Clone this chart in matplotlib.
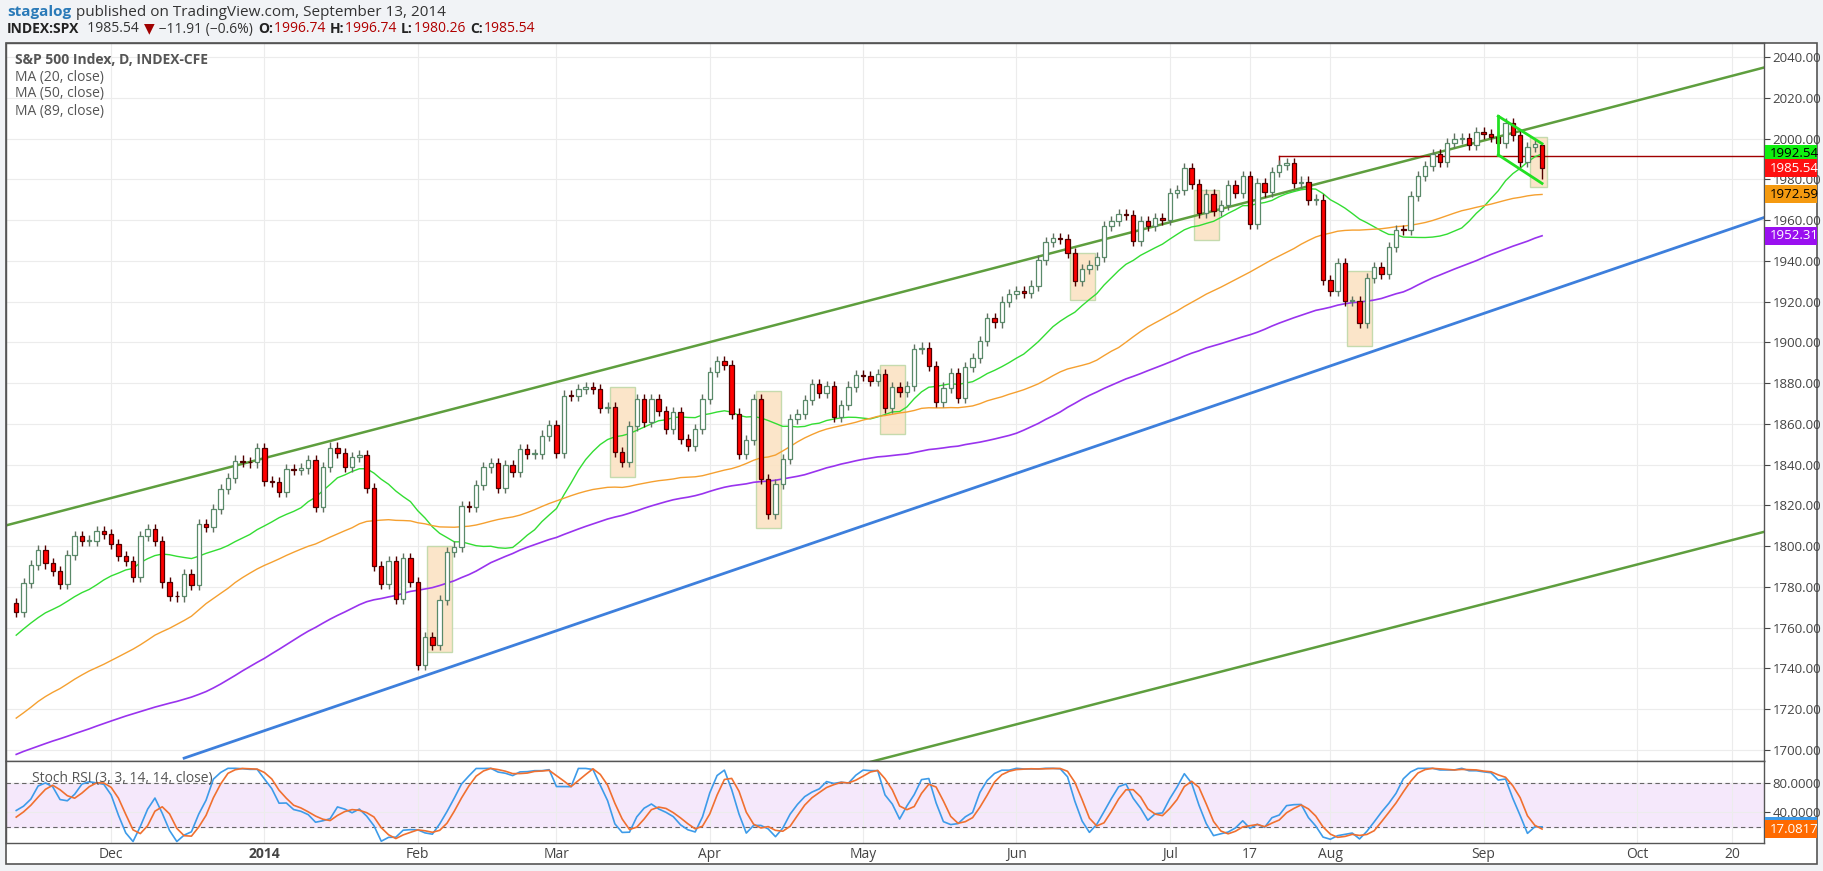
import numpy as np
import pandas as pd
import matplotlib
matplotlib.use("Agg")
import matplotlib.pyplot as plt
from matplotlib.patches import Rectangle
import matplotlib.transforms as mtransforms

plt.rcParams['font.family'] = ['Open Sans', 'DejaVu Sans']

# ---------------- data ----------------
holidays = ['2013-07-04', '2013-09-02', '2013-11-28', '2013-12-25', '2014-01-01', '2014-01-20',
            '2014-02-17', '2014-04-18', '2014-05-26', '2014-07-04', '2014-09-01']
pre_closes = [  # Jul 1 2013 .. Nov 11 2013 (warm-up for averages)
    1614, 1614, 1615, 1632, 1640, 1652, 1652, 1675, 1680, 1683, 1677, 1681, 1689, 1692, 1696, 1695, 1689, 1693, 1691, 1686, 1686, 1686,
    1707, 1710, 1707, 1697, 1690, 1697, 1691, 1689, 1694, 1685, 1661, 1656, 1646, 1652, 1642, 1656, 1663, 1657, 1630, 1634, 1638, 1633,
    1639, 1653, 1655, 1655, 1671, 1684, 1689, 1683, 1688, 1698, 1705, 1726, 1723, 1710, 1702, 1698, 1693, 1699, 1692, 1682,
    1695, 1694, 1679, 1691, 1676, 1656, 1656, 1692, 1703, 1710, 1698, 1721, 1733, 1745, 1744, 1754, 1746, 1752, 1759, 1763, 1771, 1763, 1757,
    1762, 1767, 1762, 1770, 1748, 1770, 1771.89]
closes = [  # Nov 12 2013 .. Sep 12 2014
    1767.69, 1782.00, 1790.62, 1798.18, 1791.53, 1787.87, 1781.37, 1795.85, 1804.76, 1802.48, 1802.75, 1807.23, 1805.81,
    1800.90, 1795.15, 1792.81, 1785.03, 1805.09, 1808.37, 1802.62, 1782.22, 1775.50, 1775.32, 1786.54, 1781.00, 1810.65, 1809.60, 1818.32, 1827.99, 1833.32, 1842.02, 1841.40, 1841.07, 1848.36,
    1831.98, 1831.37, 1826.77, 1837.88, 1837.49, 1838.13, 1842.37, 1819.20, 1838.88, 1848.38, 1845.89, 1838.70, 1843.80, 1844.86, 1828.46, 1790.29, 1781.56, 1792.50, 1774.20, 1794.19, 1782.59,
    1741.89, 1755.20, 1751.64, 1773.43, 1797.02, 1799.84, 1819.75, 1819.26, 1829.83, 1838.63, 1840.76, 1828.75, 1839.78, 1836.25, 1847.61, 1845.12, 1845.16, 1854.29, 1859.45,
    1845.73, 1873.91, 1873.81, 1877.03, 1878.04, 1877.17, 1867.63, 1868.20, 1846.34, 1841.13, 1858.83, 1872.25, 1860.77, 1872.01, 1866.52, 1857.44, 1865.62, 1852.56, 1849.04, 1857.62, 1872.34,
    1885.52, 1890.90, 1888.77, 1865.09, 1845.04, 1851.96, 1872.18, 1833.08, 1815.69, 1830.61, 1842.98, 1862.31, 1864.85, 1871.89, 1879.55, 1875.39, 1878.61, 1863.40, 1869.43, 1878.33, 1883.95,
    1883.68, 1881.14, 1884.66, 1867.72, 1878.21, 1875.63, 1878.48, 1896.65, 1897.45, 1888.53, 1870.85, 1877.86, 1885.08, 1872.83, 1888.03, 1892.49, 1900.53, 1911.91, 1909.78, 1920.03, 1923.57,
    1924.97, 1924.24, 1927.88, 1940.46, 1949.44, 1951.27, 1950.79, 1943.89, 1930.11, 1936.16, 1937.78, 1941.99, 1956.98, 1959.48, 1962.87, 1962.61, 1949.98, 1959.53, 1957.22, 1960.96, 1960.23,
    1973.32, 1974.62, 1985.44, 1977.65, 1963.71, 1972.83, 1964.68, 1967.57, 1977.10, 1973.28, 1981.57, 1958.12, 1978.22, 1973.63, 1983.53, 1987.01, 1987.98, 1978.34, 1978.91, 1969.95, 1970.07, 1930.67,
    1925.15, 1938.99, 1920.21, 1920.24, 1909.57, 1931.59, 1936.92, 1933.75, 1946.72, 1955.18, 1955.06, 1971.74, 1981.60, 1986.51, 1992.37, 1988.40, 1997.92, 2000.02, 2000.12, 1996.74, 2003.37,
    2002.28, 2000.72, 1997.65, 2007.71, 2001.54, 1988.44, 1995.69, 1997.45, 1985.54]
last_open, last_high, last_low = 1996.74, 1996.74, 1980.26
wick = 2.5

boxes = [('2014-02-05', '2014-02-07', 1748, 1800), ('2014-03-13', '2014-03-17', 1834, 1878),
         ('2014-04-10', '2014-04-14', 1809, 1876), ('2014-05-06', '2014-05-08', 1855, 1889),
         ('2014-06-12', '2014-06-16', 1921, 1944), ('2014-07-08', '2014-07-10', 1950, 1975),
         ('2014-08-06', '2014-08-08', 1898, 1935), ('2014-09-11', '2014-09-12', 1976, 2001)]
upper_ch = [('2013-11-12', 1811.5), ('2014-09-12', 2006.5)]
lower_ch = [('2014-05-06', 1696.0), ('2014-09-12', 1779.0)]
blue_ln = [('2013-12-16', 1696.0), ('2014-09-12', 1924.0)]
red_level = ('2014-07-23', 1991.6)
flag = [[('2014-09-04', 2011), ('2014-09-12', 1997.5)], [('2014-09-04', 1992), ('2014-09-12', 1978)],
        [('2014-09-04', 2011), ('2014-09-04', 1992)]]
xtick_dates = ['2013-12-02', '2014-01-02', '2014-02-03', '2014-03-03', '2014-04-01', '2014-05-01', '2014-06-02',
               '2014-07-01', '2014-07-17', '2014-08-01', '2014-09-02', '2014-10-01', '2014-10-20']
xtick_labels = ['Dec', '2014', 'Feb', 'Mar', 'Apr', 'May', 'Jun', 'Jul', '17', 'Aug', 'Sep', 'Oct', '20']

# ---------------- prep ----------------
cbd = pd.offsets.CustomBusinessDay(holidays=holidays)
alldates = pd.date_range('2013-07-01', '2014-10-31', freq=cbd)
allc = np.array(pre_closes + closes, dtype=float)
n_pre = len(pre_closes)
pos = {d.strftime('%Y-%m-%d'): i - n_pre for i, d in enumerate(alldates)}
def X(d): return pos[d]

s = pd.Series(allc)
ma20 = s.rolling(20).mean().values[n_pre:]
ma50 = s.rolling(50).mean().values[n_pre:]
ma89 = s.rolling(89).mean().values[n_pre:]
delta = s.diff()
up = delta.clip(lower=0).ewm(alpha=1/14, adjust=False).mean()
dn = (-delta.clip(upper=0)).ewm(alpha=1/14, adjust=False).mean()
rsi = 100 - 100 / (1 + up / dn)
st = (rsi - rsi.rolling(14).min()) / (rsi.rolling(14).max() - rsi.rolling(14).min()) * 100
K = st.rolling(3).mean()
D = K.rolling(3).mean()
K = K.values[n_pre:]; D = D.values[n_pre:]

c = np.array(closes)
o = np.concatenate([[pre_closes[-1]], c[:-1]])
o[-1] = last_open
h = np.maximum(o, c) + wick
l = np.minimum(o, c) - wick
h[-1], l[-1] = last_high, last_low
x = np.arange(len(c))

W, H = 1824, 871
fig = plt.figure(figsize=(W/100, H/100), dpi=100)
fig.patch.set_facecolor('#f1f3f6')
fig.add_artist(Rectangle((6/W, 1-864/H), (1817-6)/W, (864-43)/H, transform=fig.transFigure,
                         facecolor='white', edgecolor='#555555', lw=1.2, zorder=-5))
L, R = 6, 1764
ax = fig.add_axes([L/W, 1-761/H, (R-L)/W, (761-43)/H])
ax2 = fig.add_axes([L/W, 1-843/H, (R-L)/W, (843-761)/H], sharex=ax)
xmin, xmax = -1.4, 239.4
for a in (ax, ax2):
    for sp in a.spines.values():
        sp.set_color('#555555'); sp.set_linewidth(1.0)
    a.yaxis.tick_right()
    a.tick_params(axis='y', labelsize=9.5, colors='#444444', length=4, width=0.8, pad=2, direction='out')
    a.tick_params(axis='x', length=0)
    a.grid(True, color='#ececec', lw=0.8)
    a.set_axisbelow(True)
ax.set_xlim(xmin, xmax)
ax.set_ylim(1694.6, 2046.9)
ax.set_yticks(np.arange(1700, 2041, 20))
ax.set_yticklabels([f'{v:.2f}' for v in np.arange(1700, 2041, 20)])
xt = [X(d) for d in xtick_dates]
ax.set_xticks(xt)
plt.setp(ax.get_xticklabels(), visible=False)
ax2.set_xticklabels(xtick_labels)
ax2.tick_params(axis='x', labelsize=10, colors='#444444', pad=3)
ax2.get_xticklabels()[1].set_fontweight('bold')

for d0, d1, lo, hi in boxes:
    ax.add_patch(Rectangle((X(d0)-0.7, lo), X(d1)-X(d0)+1.4, hi-lo, facecolor='#fbe3c3',
                           edgecolor='#bfd8a8', alpha=0.9, lw=1.0, zorder=1))

def extline(pts, color, lw=1.8, start=None):
    (d0, p0), (d1, p1) = pts
    x0, x1 = X(d0), X(d1)
    m = (p1 - p0) / (x1 - x0)
    xs = np.array([xmin if start is None else start, xmax])
    ax.plot(xs, p0 + m*(xs - x0), color=color, lw=lw, zorder=2)
extline(upper_ch, '#5e9e3e')
extline(lower_ch, '#5e9e3e', start=X(lower_ch[0][0]) - 3)
extline(blue_ln, '#3d7fdc', lw=2, start=X(blue_ln[0][0]))
ax.plot([X(red_level[0]), xmax], [red_level[1]]*2, color='#a00000', lw=1, zorder=2)
ax.plot([X(red_level[0])]*2, [red_level[1], red_level[1]-4], color='#a00000', lw=1, zorder=2)
for seg in flag:
    ax.plot([X(seg[0][0]), X(seg[1][0])], [seg[0][1], seg[1][1]], color='#22e022', lw=2, zorder=7)

ax.plot(x, ma20, color='#33dd33', lw=1, zorder=3)
ax.plot(x, ma50, color='#f5a030', lw=1, zorder=3)
ax.plot(x, ma89, color='#9933ee', lw=1.2, zorder=3)

for i in range(len(c)):
    upc = c[i] >= o[i]
    ax.vlines(x[i], l[i], h[i], color='#607060' if upc else '#500000', lw=1.0, zorder=5)
    ax.add_patch(Rectangle((x[i]-0.3, min(o[i], c[i])), 0.6, max(abs(c[i]-o[i]), 0.4),
                           facecolor='white' if upc else '#ff0000',
                           edgecolor='#5a8a6a' if upc else '#500000', lw=0.9, zorder=6))

# right-side value labels
def rlabel(a, val, txt, col, tc):
    yp = a.transData.transform((0, val))[1]
    fig.add_artist(Rectangle((1765/W, (yp-9)/H), 52/W, 18/H, transform=fig.transFigure,
                             facecolor=col, edgecolor='none', zorder=10))
    fig.text(1770/W, yp/H, txt, fontsize=9.5, color=tc, va='center', ha='left', zorder=11)
for val, col, tc in [(ma20[-1], '#10f010', 'black'), (c[-1], '#ff1010', 'white'),
                     (ma50[-1], '#f59a10', 'black'), (ma89[-1], '#9a10f0', 'white')]:
    rlabel(ax, val, f'{val:.2f}', col, tc)

for k, t in enumerate(['S&P 500 Index, D, INDEX-CFE', 'MA (20, close)', 'MA (50, close)', 'MA (89, close)']):
    ax.text(0.005, 1 - (17 + 17*k)/718, t, transform=ax.transAxes, fontsize=10, color='#555555', va='center',
            fontweight='bold' if k == 0 else 'normal')

ax2.set_ylim(-2, 110)
ax2.set_yticks([80, 40])
ax2.set_yticklabels(['80.0000', '40.0000'])
ax2.axhspan(20, 80, color='#f5e8fb', zorder=0)
ax2.axhline(80, color='#666666', lw=0.8, ls=(0, (4, 3)))
ax2.axhline(20, color='#666666', lw=0.8, ls=(0, (4, 3)))
ax2.plot(x, K, color='#3d9be9', lw=1.2)
ax2.plot(x, D, color='#f07030', lw=1.2)
ax2.text(0.015, 0.79, 'Stoch RSI (3, 3, 14, 14, close)', transform=ax2.transAxes, fontsize=10, color='#555555', va='center')
fig.canvas.draw()
ypk = ax2.transData.transform((0, D[-1]))[1]
fig.add_artist(Rectangle((1765/W, (ypk+9)/H), 52/W, 3/H, transform=fig.transFigure, facecolor='#3d9be9', edgecolor='none', zorder=10))
rlabel(ax2, D[-1], f'{D[-1]:.4f}', '#ff6a00', 'white')

# header, laid out sequentially
renderer = fig.canvas.get_renderer()
def seq(parts, y, x0):
    xx = x0
    for txt, col, wt, fs in parts:
        t = fig.text(xx/W, 1-y/H, txt, fontsize=fs, color=col, fontweight=wt, va='center')
        xx = t.get_window_extent(renderer).x1 + 1
seq([('stagalog', '#2a7ab8', 'bold', 11), (' published on TradingView.com, September 13, 2014', '#333333', 'normal', 11)], 12, 7)
seq([('INDEX:SPX', '#222222', 'bold', 10), ('  1985.54 ', '#333333', 'normal', 10),
     ('▼', '#a00000', 'normal', 10), (' −11.91 (−0.6%) ', '#333333', 'normal', 10),
     ('O:', '#222222', 'bold', 10), ('1996.74 ', '#b00000', 'normal', 10),
     ('H:', '#222222', 'bold', 10), ('1996.74 ', '#b00000', 'normal', 10),
     ('L:', '#222222', 'bold', 10), ('1980.26 ', '#b00000', 'normal', 10),
     ('C:', '#222222', 'bold', 10), ('1985.54', '#b00000', 'normal', 10)], 29, 7)

fig.savefig('out.png', dpi=100, facecolor=fig.get_facecolor())
